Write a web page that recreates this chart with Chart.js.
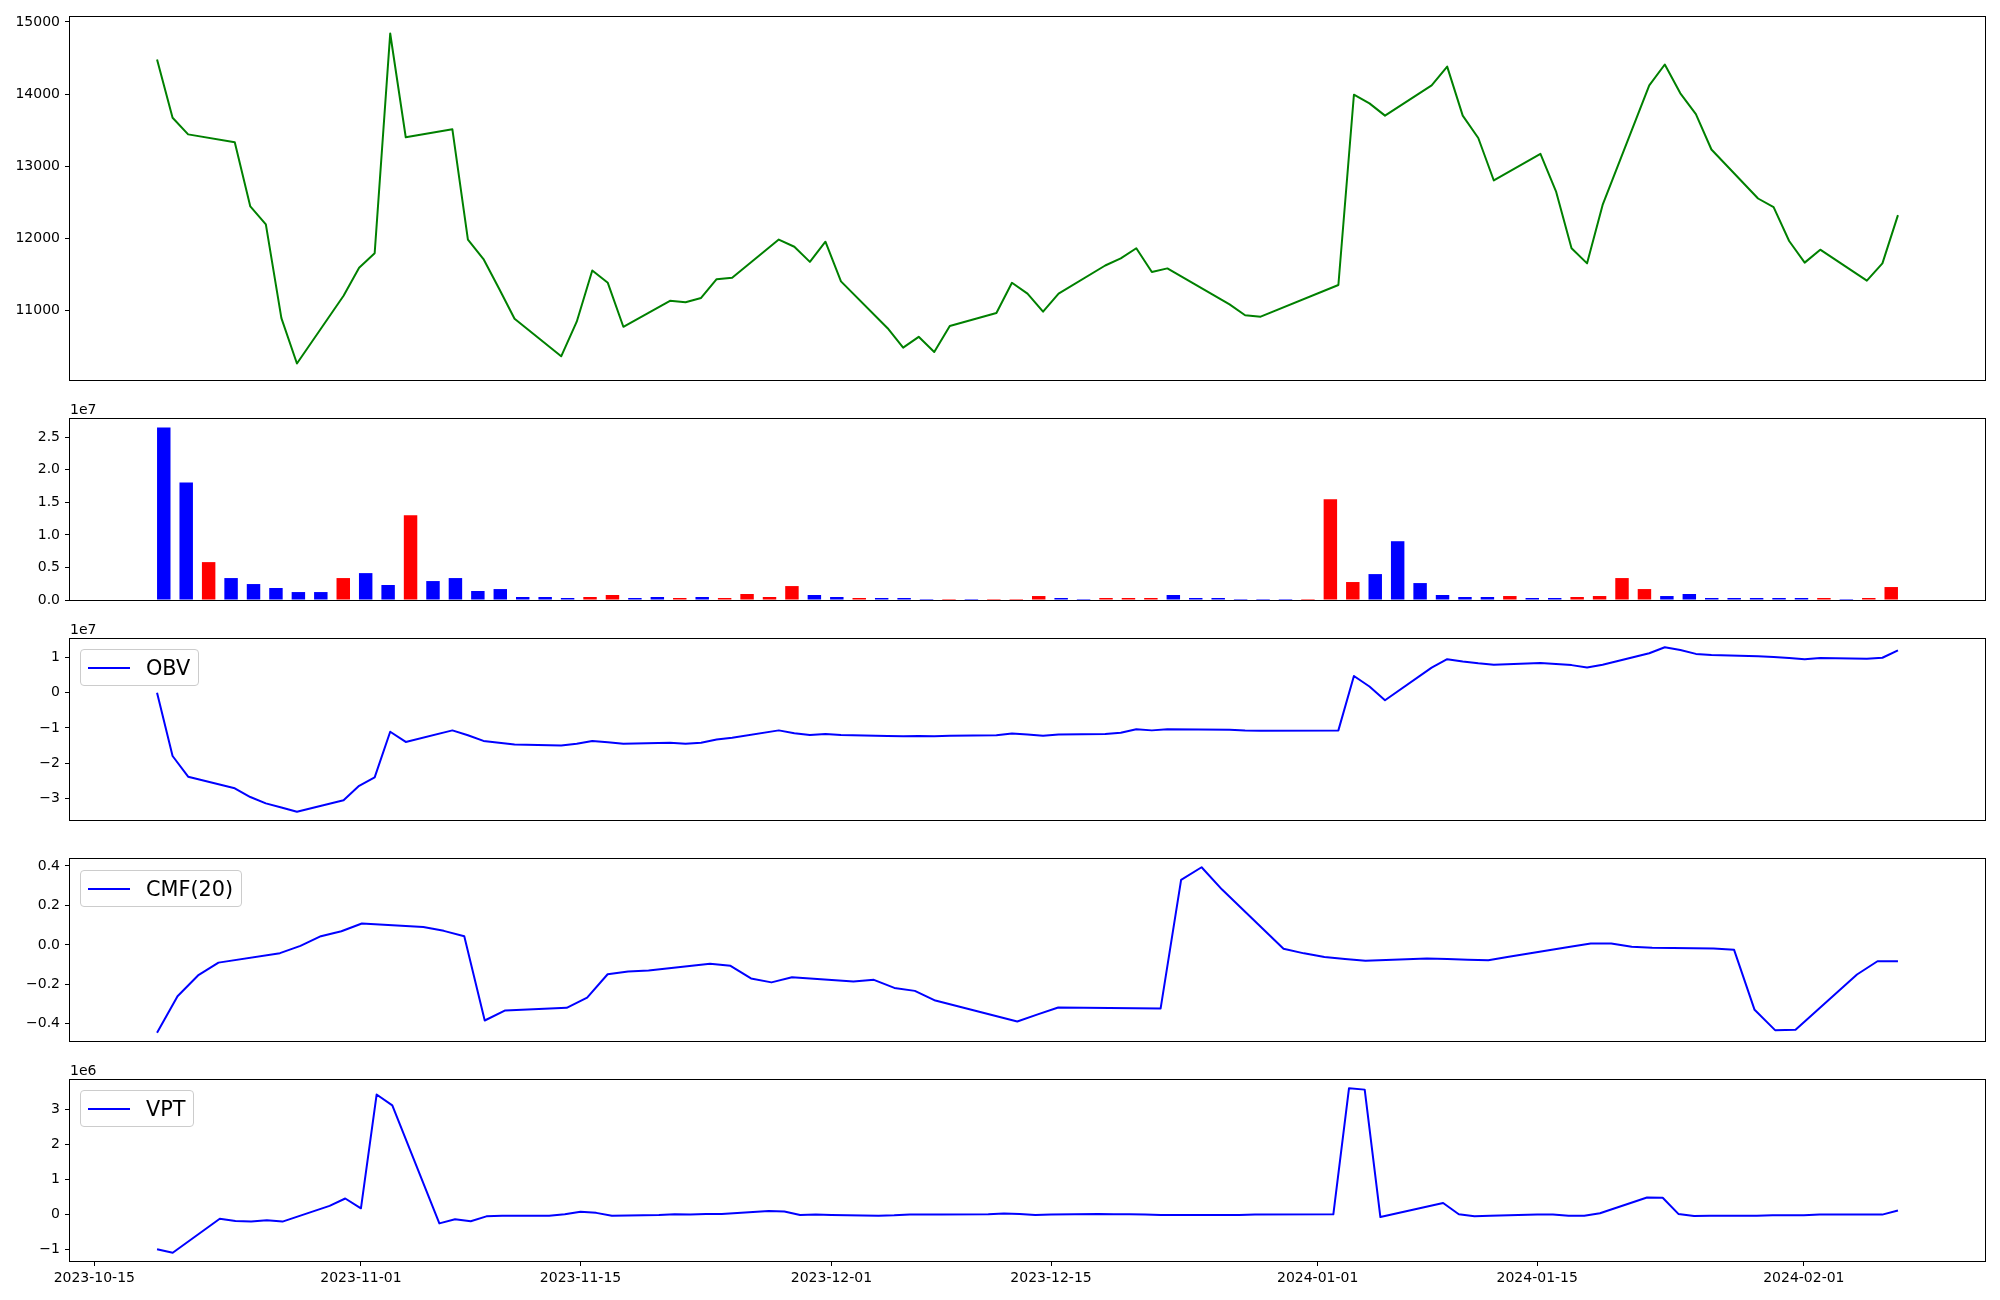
<!DOCTYPE html>
<html lang="en">
<head>
<meta charset="UTF-8">
<title>Price, Volume, OBV, CMF, VPT</title>
<style>
  html, body { margin: 0; padding: 0; background: #fff; }
  body { width: 2000px; height: 1300px; position: relative; overflow: hidden; font-family: 'DejaVu Sans', sans-serif; color: #000; }
  canvas { position: absolute; left: 0; }
  /* matplotlib-style offset text ("1e7") above a panel */
  .offset { position: absolute; left: 70px; font-size: 14px; line-height: 14px; }
  /* legend box drawn like matplotlib's upper-left legend */
  .legend { position: absolute; left: 80px; height: 37px; box-sizing: border-box; display: flex; align-items: center;
            padding: 0 8px 0 7px; border: 1px solid #cccccc; border-radius: 4px; background: rgba(255,255,255,0.8);
            font-size: 20.8px; white-space: nowrap; }
  .legend i { display: inline-block; width: 42px; height: 2px; background: #0000ff; margin-right: 16px; }
</style>
</head>
<body>
<canvas id="priceChart"></canvas>
<canvas id="volumeChart"></canvas>
<canvas id="obvChart"></canvas>
<canvas id="cmfChart"></canvas>
<canvas id="vptChart"></canvas>

<div class="offset" style="top:402px">1e7</div>
<div class="offset" style="top:622px">1e7</div>
<div class="offset" style="top:1063px">1e6</div>

<div class="legend" style="top:649px"><i></i>OBV</div>
<div class="legend" style="top:870px"><i></i>CMF(20)</div>
<div class="legend" style="top:1090px"><i></i>VPT</div>

<script src="https://cdn.jsdelivr.net/npm/chart.js"></script>
<script>
// ---- data ----
const dates = [
  '2023-10-18','2023-10-19','2023-10-20','2023-10-23','2023-10-24','2023-10-25','2023-10-26','2023-10-27','2023-10-30','2023-10-31',
  '2023-11-01','2023-11-02','2023-11-03','2023-11-06','2023-11-07','2023-11-08','2023-11-09','2023-11-10','2023-11-13','2023-11-14',
  '2023-11-15','2023-11-16','2023-11-17','2023-11-20','2023-11-21','2023-11-22','2023-11-23','2023-11-24','2023-11-27','2023-11-28',
  '2023-11-29','2023-11-30','2023-12-01','2023-12-04','2023-12-05','2023-12-06','2023-12-07','2023-12-08','2023-12-11','2023-12-12',
  '2023-12-13','2023-12-14','2023-12-15','2023-12-18','2023-12-19','2023-12-20','2023-12-21','2023-12-22','2023-12-26','2023-12-27',
  '2023-12-28','2024-01-02','2024-01-03','2024-01-04','2024-01-05','2024-01-08','2024-01-09','2024-01-10','2024-01-11','2024-01-12',
  '2024-01-15','2024-01-16','2024-01-17','2024-01-18','2024-01-19','2024-01-22','2024-01-23','2024-01-24','2024-01-25','2024-01-26',
  '2024-01-29','2024-01-30','2024-01-31','2024-02-01','2024-02-02','2024-02-05','2024-02-06','2024-02-07'
];

const close = [
  14480, 13670, 13440, 13330, 12440, 12190, 10890, 10260, 11200, 11590,
  11790, 14840, 13400, 13510, 11980, 11710, 11300, 10880, 10360, 10840,
  11550, 11380, 10770, 11130, 11110, 11170, 11430, 11450, 11980, 11880,
  11670, 11950, 11400, 10750, 10480, 10630, 10420, 10780, 10960, 11380,
  11230, 10980, 11230, 11620, 11720, 11860, 11530, 11580, 11080, 10930,
  10910, 11350, 13990, 13870, 13700, 14120, 14380, 13700, 13390, 12800,
  13170, 12650, 11860, 11650, 12460, 14120, 14410, 14010, 13720, 13230,
  12550, 12430, 11960, 11660, 11840, 11410, 11650, 12320
];

const volume = [
  26480000, 18060000, 5820000, 3370000, 2450000, 1840000, 1220000, 1220000, 3370000, 4130000,
  2300000, 13010000, 2910000, 3370000, 1380000, 1680000, 460000, 460000, 310000, 460000,
  770000, 310000, 460000, 310000, 460000, 310000, 920000, 460000, 2140000, 770000,
  460000, 310000, 310000, 310000, 150000, 150000, 150000, 150000, 150000, 610000,
  310000, 150000, 310000, 310000, 310000, 770000, 310000, 310000, 150000, 150000,
  150000, 150000, 15460000, 2760000, 3980000, 9030000, 2600000, 770000, 460000, 460000,
  610000, 310000, 310000, 460000, 610000, 3370000, 1680000, 610000, 920000, 310000,
  310000, 310000, 310000, 310000, 310000, 150000, 310000, 1990000
];

// candle colour of each volume bar: 'r' red, 'b' blue
const volColor = [
  'b','b','r','b','b','b','b','b','r','b',
  'b','r','b','b','b','b','b','b','b','r',
  'r','b','b','r','b','r','r','r','r','b',
  'b','r','b','b','b','r','b','r','r','r',
  'b','b','r','r','r','b','b','b','b','b',
  'b','r','r','r','b','b','b','b','b','b',
  'r','b','b','r','r','r','r','b','b','b',
  'b','b','b','b','r','b','r','r'
];

const obv = [
  0, -1.80e7, -2.39e7, -2.72e7, -2.97e7, -3.15e7, -3.27e7, -3.39e7, -3.06e7, -2.65e7,
  -2.41e7, -1.11e7, -1.40e7, -1.07e7, -1.21e7, -1.37e7, -1.42e7, -1.47e7, -1.50e7, -1.45e7,
  -1.37e7, -1.41e7, -1.45e7, -1.42e7, -1.45e7, -1.42e7, -1.33e7, -1.28e7, -1.07e7, -1.15e7,
  -1.20e7, -1.17e7, -1.20e7, -1.23e7, -1.24e7, -1.23e7, -1.24e7, -1.22e7, -1.21e7, -1.16e7,
  -1.19e7, -1.22e7, -1.19e7, -1.17e7, -1.14e7, -1.04e7, -1.07e7, -1.04e7, -1.05e7, -1.07e7,
  -1.08e7, -1.07e7, 0.48e7, 0.18e7, -0.21e7, 0.72e7, 0.96e7, 0.89e7, 0.84e7, 0.80e7,
  0.85e7, 0.82e7, 0.79e7, 0.72e7, 0.80e7, 1.13e7, 1.30e7, 1.22e7, 1.11e7, 1.08e7,
  1.04e7, 1.02e7, 0.99e7, 0.96e7, 0.99e7, 0.97e7, 1.00e7, 1.21e7
];

// CMF(20): first 19 sessions have no value
const cmf = [
  null, null, null, null, null, null, null, null, null, null,
  null, null, null, null, null, null, null, null, null, -0.445,
  -0.26, -0.155, -0.09, -0.042, -0.005, 0.044, 0.069, 0.108, 0.091, 0.071,
  0.044, -0.383, -0.332, -0.319, -0.267, -0.149, -0.135, -0.13, -0.096, -0.106,
  -0.17, -0.19, -0.164, -0.186, -0.177, -0.218, -0.233, -0.282, -0.388, -0.352,
  -0.317, -0.322, 0.329, 0.393, 0.28, -0.02, -0.043, -0.061, -0.072, -0.081,
  -0.069, -0.072, -0.075, -0.078, -0.06, -0.009, 0.007, 0.007, -0.01, -0.015,
  -0.019, -0.025, -0.329, -0.432, -0.43, -0.15, -0.083, -0.083
];

// VPT: first session has no value
const vpt = [
  null, -0.99e6, -1.09e6, -0.12e6, -0.18e6, -0.20e6, -0.16e6, -0.20e6, 0.25e6, 0.46e6,
  0.18e6, 3.43e6, 3.12e6, -0.25e6, -0.13e6, -0.19e6, -0.05e6, -0.03e6, -0.03e6, 0.01e6,
  0.08e6, 0.05e6, -0.03e6, -0.01e6, 0.01e6, 0.00e6, 0.02e6, 0.02e6, 0.10e6, 0.09e6,
  -0.01e6, 0.00e6, -0.01e6, -0.03e6, -0.02e6, 0.00e6, 0.00e6, 0.00e6, 0.01e6, 0.03e6,
  0.02e6, -0.01e6, 0.00e6, 0.02e6, 0.01e6, 0.01e6, 0.00e6, -0.01e6, -0.01e6, -0.01e6,
  0.00e6, 0.01e6, 3.61e6, 3.57e6, -0.07e6, 0.23e6, 0.33e6, 0.01e6, -0.05e6, -0.03e6,
  0.00e6, 0.00e6, -0.03e6, -0.03e6, 0.04e6, 0.49e6, 0.48e6, 0.02e6, -0.04e6, -0.03e6,
  -0.03e6, -0.02e6, -0.02e6, -0.02e6, 0.00e6, 0.00e6, 0.00e6, 0.12e6
];

// tick values / labels
const priceTicks = [11000, 12000, 13000, 14000, 15000];
const volumeTicks = [0, 0.5e7, 1.0e7, 1.5e7, 2.0e7, 2.5e7];
const obvTicks = [-3e7, -2e7, -1e7, 0, 1e7];
const cmfTicks = [-0.4, -0.2, 0, 0.2, 0.4];
const vptTicks = [-1e6, 0, 1e6, 2e6, 3e6];
const dateTickLabels = ['2023-10-15', '2023-11-01', '2023-11-15', '2023-12-01', '2023-12-15', '2024-01-01', '2024-01-15', '2024-02-01'];

// ---- helpers ----
const toDay = s => Date.UTC(+s.slice(0, 4), +s.slice(5, 7) - 1, +s.slice(8, 10)) / 86400000;
const xs = dates.map(toDay);
const minus = s => s.replace('-', '\u2212');

// matplotlib default 5% margins
function padded(lo, hi) {
  const m = (hi - lo) * 0.05;
  return [lo - m, hi + m];
}
function yLimits(vals) {
  const v = vals.filter(a => a !== null);
  return padded(Math.min(...v), Math.max(...v));
}
function xLimits(vals) {
  const v = xs.filter((_, i) => vals[i] !== null);
  return padded(Math.min(...v), Math.max(...v));
}
const points = vals => vals.map((v, i) => ({ x: xs[i], y: v }));

const frame = {
  id: 'frame',
  afterDraw(chart) {
    const { ctx, chartArea: a } = chart;
    ctx.save();
    ctx.strokeStyle = '#000';
    ctx.lineWidth = 1;
    ctx.strokeRect(a.left - 0.5, a.top - 0.5, a.right - a.left + 1, a.bottom - a.top + 1);
    ctx.restore();
  }
};

Chart.defaults.font.family = "'DejaVu Sans', sans-serif";
Chart.defaults.font.size = 14;
Chart.defaults.color = '#000';

const PAD = 20, XH = 40;

function makePanel(id, top, bottom, type, datasets, xlim, ylim, yTicks, yFmt, showDates) {
  const cv = document.getElementById(id);
  cv.width = 2000;
  cv.height = (bottom - top) + PAD + (showDates ? XH : PAD);
  cv.style.top = (top - PAD) + 'px';

  const tickGrid = { display: true, drawOnChartArea: false, drawTicks: true, tickLength: 5, tickColor: '#000', tickWidth: 1, offset: false };

  const x = { type: 'linear', min: xlim[0], max: xlim[1], offset: false, display: !!showDates, grid: tickGrid, border: { display: false } };
  if (showDates) {
    x.afterBuildTicks = s => { s.ticks = dateTickLabels.map(l => ({ value: toDay(l) })); };
    x.afterFit = s => { s.height = XH; };
    x.ticks = { autoSkip: false, maxRotation: 0, minRotation: 0, padding: 4, callback: (v, i) => dateTickLabels[i] };
  }

  return new Chart(cv, {
    type,
    data: { datasets },
    options: {
      responsive: false,
      animation: false,
      devicePixelRatio: 1,
      layout: { padding: { top: PAD, bottom: showDates ? 0 : PAD, left: 0, right: 15 } },
      plugins: { legend: { display: false }, tooltip: { enabled: false } },
      scales: {
        x,
        y: {
          min: ylim[0], max: ylim[1],
          grid: tickGrid,
          border: { display: false },
          afterFit: s => { s.width = 70; },
          afterBuildTicks: s => { s.ticks = yTicks.map(v => ({ value: v })); },
          ticks: { padding: 5, callback: v => yFmt(v) }
        }
      }
    },
    plugins: [frame]
  });
}

const lineSet = (vals, color) => ({
  data: points(vals), borderColor: color, borderWidth: 2, pointRadius: 0,
  tension: 0, fill: false, spanGaps: false, borderJoinStyle: 'round'
});

// 1. close price
makePanel('priceChart', 17, 380, 'line', [lineSet(close, '#008000')],
  xLimits(close), yLimits(close), priceTicks, v => String(v), false);

// 2. volume bars (drawn against session number)
const barIdx = volume.map((_, i) => i);
makePanel('volumeChart', 419, 600, 'bar', [{
  data: volume.map((v, i) => ({ x: barIdx[i], y: v })),
  backgroundColor: volColor.map(c => c === 'r' ? '#ff0000' : '#0000ff'),
  borderWidth: 0, barPercentage: 0.6, categoryPercentage: 1.0
}], padded(-0.3, volume.length - 1 + 0.3), [0, Math.max(...volume) * 1.05],
  volumeTicks, v => (v / 1e7).toFixed(1), false);

// 3. OBV
makePanel('obvChart', 639, 820, 'line', [lineSet(obv, '#0000ff')],
  xLimits(obv), yLimits(obv), obvTicks, v => minus(String(Math.round(v / 1e7))), false);

// 4. CMF(20)
makePanel('cmfChart', 859, 1041, 'line', [lineSet(cmf, '#0000ff')],
  xLimits(cmf), yLimits(cmf), cmfTicks, v => minus(v.toFixed(1)), false);

// 5. VPT with date axis
makePanel('vptChart', 1080, 1261, 'line', [lineSet(vpt, '#0000ff')],
  xLimits(vpt), yLimits(vpt), vptTicks, v => minus(String(Math.round(v / 1e6))), true);
</script>
</body>
</html>
